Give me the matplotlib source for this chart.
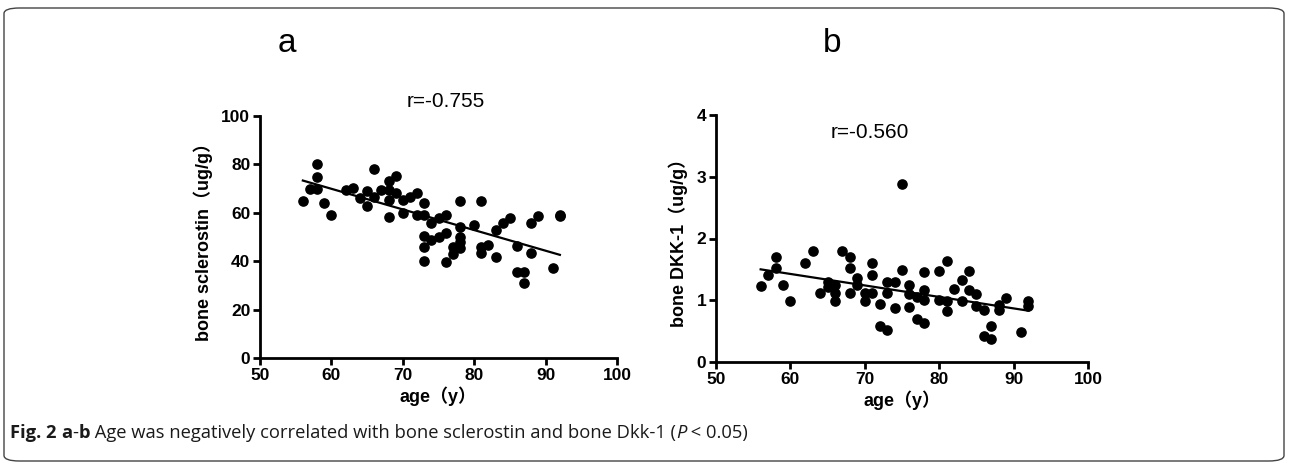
import matplotlib
matplotlib.use("Agg")
import matplotlib.pyplot as plt
from matplotlib.patches import FancyBboxPatch
from matplotlib.text import Annotation
import numpy as np

# ---------------- data ----------------
age_a = [56, 58, 58, 57, 58, 59, 60, 62, 63, 64, 65, 65, 66, 66, 67, 68, 68, 68, 68,
         69, 69, 70, 70, 71, 72, 72, 73, 73, 74, 75, 76, 78, 81, 78, 80, 73, 74, 75,
         76, 73, 73, 76, 77, 77, 78, 78, 78, 81, 81, 82, 83, 83, 84, 85, 86, 86, 87,
         87, 88, 88, 89, 91, 92, 92]
sclerostin = [65.0, 80.0, 74.9, 69.7, 69.7, 64.2, 59.1, 69.4, 70.1, 66.0, 69.1, 62.8,
              78.0, 66.7, 69.4, 73.1, 69.4, 65.3, 58.1, 75.2, 68.0, 65.3, 60.0, 66.7,
              68.0, 59.1, 63.9, 59.1, 55.6, 57.7, 59.1, 64.9, 64.9, 54.3, 55.0, 50.4,
              48.8, 50.1, 51.8, 45.7, 40.2, 39.8, 46.0, 43.0, 50.1, 48.0, 45.3, 46.0,
              43.5, 46.7, 52.9, 41.9, 55.6, 57.7, 46.3, 35.7, 35.7, 31.1, 55.6, 43.5,
              58.7, 37.0, 59.1, 58.5]

age_b = [56, 57, 58, 58, 59, 60, 62, 63, 64, 65, 65, 66, 66, 66, 67, 68, 68, 68, 69,
         69, 70, 70, 71, 71, 71, 72, 72, 73, 73, 73, 74, 74, 75, 75, 76, 76, 76, 77,
         77, 78, 78, 78, 78, 80, 80, 81, 81, 81, 82, 83, 83, 84, 84, 85, 85, 86, 86,
         87, 87, 88, 88, 89, 91, 92, 92]
dkk1 = [1.23, 1.41, 1.52, 1.70, 1.25, 0.98, 1.61, 1.80, 1.12, 1.30, 1.22, 1.25, 1.12,
        0.98, 1.79, 1.70, 1.52, 1.12, 1.36, 1.25, 1.11, 0.98, 1.61, 1.41, 1.12, 0.94,
        0.58, 0.52, 1.30, 1.11, 1.29, 0.87, 2.88, 1.49, 1.25, 1.10, 0.89, 1.06, 0.70,
        1.46, 1.17, 1.00, 0.63, 1.48, 1.00, 1.63, 0.98, 0.82, 1.19, 1.32, 0.98, 1.48,
        1.17, 1.10, 0.91, 0.84, 0.42, 0.58, 0.38, 0.92, 0.85, 1.03, 0.48, 0.98, 0.91]

# fitted regression lines (slope, intercept) and their x-range
fit_a = (-0.853, 121.1)
fit_b = (-0.0186, 2.542)
fit_range = [56, 92]

r_a = "r=-0.755"
r_b = "r=-0.560"
xticks = [50, 60, 70, 80, 90, 100]
yticks_a = [0, 20, 40, 60, 80, 100]
yticks_b = [0, 1, 2, 3, 4]

# ---------------- figure ----------------
W, H = 1289, 465
fig = plt.figure(figsize=(W / 100, H / 100), dpi=100)

lab_font = ['Liberation Sans', 'Noto Sans CJK SC']


def style_axes(ax, ylim, yticks):
    ax.set_xlim(50, 100)
    ax.set_ylim(*ylim)
    ax.set_xticks(xticks)
    ax.set_yticks(yticks)
    for s in ['top', 'right']:
        ax.spines[s].set_visible(False)
    for s in ['left', 'bottom']:
        ax.spines[s].set_linewidth(2.0)
    ax.tick_params(direction='out', length=5, width=2.0, pad=2, labelsize=12.5)
    for lab in ax.get_xticklabels() + ax.get_yticklabels():
        lab.set_fontweight('bold')
        lab.set_family('Liberation Sans')


xs = np.array(fit_range)

# panel a
axa = fig.add_axes([260 / W, 1 - 358 / H, 357 / W, 242 / H])
axa.scatter(age_a, sclerostin, s=44, color='black', zorder=3, clip_on=False)
axa.plot(xs, fit_a[0] * xs + fit_a[1], color='black', lw=1.6, zorder=2)
style_axes(axa, (0, 100), yticks_a)
axa.set_xlabel('age（y）', family=lab_font, fontweight='bold', fontsize=13, labelpad=3)
axa.set_ylabel('bone sclerostin（ug/g）', family=lab_font, fontweight='bold',
               fontsize=13, labelpad=6)
axa.text(0.52, 1.06, r_a, transform=axa.transAxes, ha='center', va='center',
         fontsize=15, family='Liberation Sans', clip_on=False)

# panel b
axb = fig.add_axes([716 / W, 1 - 362 / H, 372 / W, 247 / H])
axb.scatter(age_b, dkk1, s=44, color='black', zorder=3, clip_on=False)
axb.plot(xs, fit_b[0] * xs + fit_b[1], color='black', lw=1.6, zorder=2)
style_axes(axb, (0, 4), yticks_b)
axb.set_xlabel('age（y）', family=lab_font, fontweight='bold', fontsize=13, labelpad=3)
axb.set_ylabel('bone DKK-1（ug/g）', family=lab_font, fontweight='bold',
               fontsize=13, labelpad=6)
axb.text(0.414, 0.928, r_b, transform=axb.transAxes, ha='center', va='center',
         fontsize=15, family='Liberation Sans', clip_on=False)

# panel letters
fig.text(287 / W, 1 - 44 / H, 'a', ha='center', va='center', fontsize=24,
         family='Liberation Sans')
fig.text(832 / W, 1 - 44 / H, 'b', ha='center', va='center', fontsize=24,
         family='Liberation Sans')

# border
frame = FancyBboxPatch((4 / W, 4 / H), (W - 9) / W, (H - 12) / H,
                       boxstyle='round,pad=0,rounding_size=0.012',
                       transform=fig.transFigure, fill=False,
                       edgecolor='#444444', linewidth=1.0)
fig.add_artist(frame)

# caption (chained pieces so bold / italic parts follow each other)
cap_y = 1 - 433 / H
cf = 'Open Sans'
cs = 13.2
prev = fig.text(10 / W, cap_y, 'Fig. 2 ', fontsize=cs, family=cf, fontweight='bold',
                color='#1a1a1a', va='center')
parts = [('a', 'bold', 'normal'), ('-', 'normal', 'normal'), ('b', 'bold', 'normal'),
         (' Age was negatively correlated with bone sclerostin and bone Dkk-1 (',
          'normal', 'normal'),
         ('P', 'normal', 'italic'), (' < 0.05)', 'normal', 'normal')]
for txt, w, st in parts:
    prev = fig.add_artist(Annotation(
        txt, xy=(1, 0.5), xycoords=prev, xytext=(0, 0), textcoords='offset points',
        ha='left', va='center', fontsize=cs, family=cf, fontweight=w, style=st,
        color='#1a1a1a'))

fig.savefig('out.png', dpi=100)
